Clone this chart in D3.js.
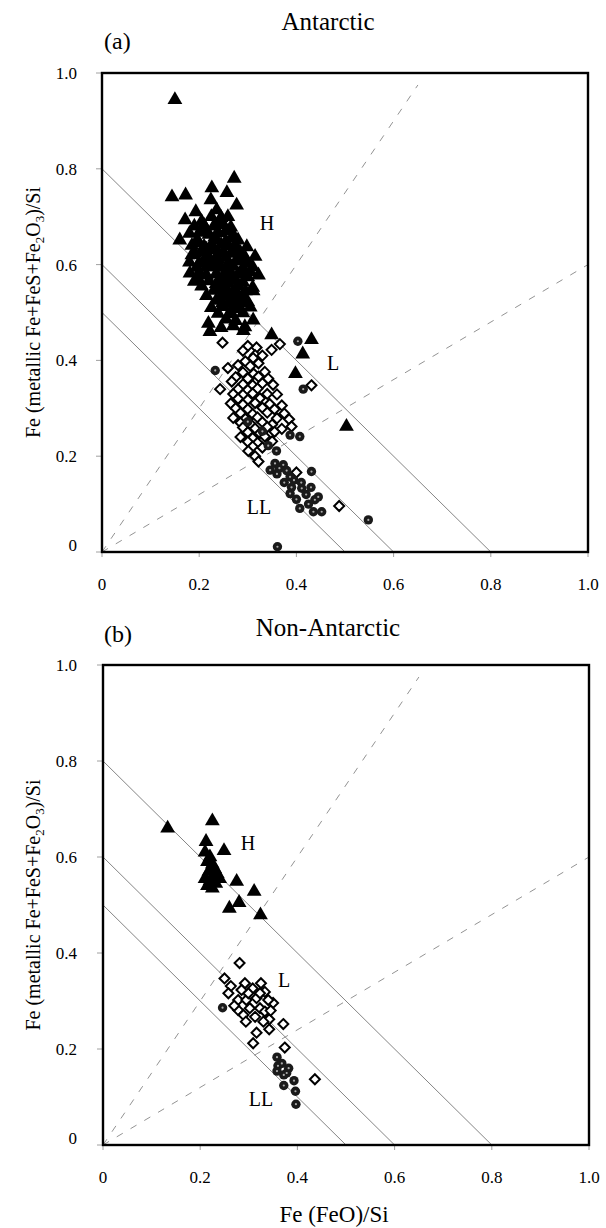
<!DOCTYPE html>
<html><head><meta charset="utf-8">
<script src="https://cdn.jsdelivr.net/npm/d3@7"></script>
<style>html,body{margin:0;padding:0;background:#fff}svg{display:block}</style>
</head><body>
<script>
// ---------- data ----------
const xTickVals = [0, 0.2, 0.4, 0.6, 0.8, 1.0];
const xTickLabels = ["0", "0.2", "0.4", "0.6", "0.8", "1.0"];
const yTickVals = [0, 0.2, 0.4, 0.6, 0.8, 1.0];
const yTickLabels = ["0", "0.2", "0.4", "0.6", "0.8", "1.0"];
const totalFeLines = [0.8, 0.6, 0.5];          // x + y = c
const ratioLines = [[1.5, 0.65], [0.6, 1.0]];   // y = k x, drawn to x end

const antH = [
[0.150,0.944],[0.272,0.780],[0.226,0.760],[0.257,0.750],[0.172,0.745],[0.144,0.741],[0.224,0.735],[0.277,0.724],
[0.236,0.714],[0.193,0.710],[0.259,0.700],[0.171,0.693],[0.225,0.700],[0.245,0.698],
[0.190,0.680],[0.210,0.682],[0.230,0.680],[0.250,0.683],[0.265,0.678],
[0.180,0.665],[0.200,0.667],[0.220,0.663],[0.240,0.666],[0.270,0.662],
[0.160,0.651],[0.195,0.650],[0.235,0.652],[0.255,0.649],[0.280,0.651],
[0.185,0.640],[0.210,0.638],[0.225,0.641],[0.260,0.639],[0.275,0.640],[0.298,0.637],
[0.190,0.625],[0.205,0.627],[0.240,0.624],[0.250,0.626],[0.265,0.623],[0.285,0.625],
[0.315,0.617],[0.220,0.615],[0.295,0.614],
[0.180,0.605],[0.200,0.603],[0.230,0.606],[0.260,0.604],[0.275,0.607],[0.300,0.603],
[0.215,0.595],[0.245,0.594],[0.270,0.596],[0.290,0.593],[0.310,0.595],
[0.181,0.582],[0.200,0.584],[0.235,0.581],[0.255,0.583],[0.280,0.580],
[0.322,0.578],[0.300,0.574],
[0.190,0.565],[0.220,0.566],[0.245,0.564],[0.265,0.567],[0.290,0.563],
[0.205,0.555],[0.255,0.553],[0.280,0.556],[0.310,0.552],
[0.311,0.545],[0.230,0.546],[0.270,0.543],
[0.215,0.535],[0.245,0.534],[0.260,0.536],[0.290,0.533],
[0.235,0.525],[0.275,0.524],[0.300,0.522],
[0.225,0.510],[0.250,0.512],[0.280,0.509],[0.305,0.511],
[0.239,0.498],[0.265,0.497],[0.290,0.499],
[0.311,0.484],[0.255,0.486],[0.275,0.483],
[0.219,0.477],[0.294,0.470],[0.270,0.472],[0.245,0.468],
[0.222,0.460],[0.291,0.462],
[0.349,0.453],[0.431,0.443],[0.413,0.413],[0.398,0.372],[0.503,0.262],
[0.205,0.690],[0.240,0.688],[0.215,0.672],[0.255,0.670],[0.232,0.657],[0.268,0.655],
[0.200,0.645],[0.245,0.642],[0.215,0.632],[0.232,0.630],[0.278,0.630],[0.255,0.615],
[0.238,0.612],[0.285,0.612],[0.210,0.610],[0.228,0.595],[0.258,0.592],[0.195,0.594],
[0.215,0.578],[0.248,0.574],[0.268,0.578],[0.235,0.560],[0.258,0.562],[0.275,0.568],
[0.240,0.548],[0.255,0.540],[0.280,0.538],[0.262,0.522],[0.248,0.520],[0.268,0.508],
[0.285,0.520],[0.295,0.545],[0.288,0.585],[0.305,0.585],[0.197,0.572],[0.185,0.620]
];
const antL = [
[0.248,0.437],[0.318,0.427],[0.349,0.422],[0.366,0.434],[0.300,0.430],
[0.315,0.411],[0.290,0.420],[0.311,0.405],[0.330,0.410],
[0.295,0.398],[0.322,0.394],[0.280,0.390],[0.305,0.388],[0.259,0.384],
[0.290,0.375],[0.312,0.372],[0.335,0.376],
[0.275,0.365],[0.300,0.362],[0.322,0.366],[0.342,0.362],[0.267,0.356],[0.431,0.348],
[0.290,0.350],[0.310,0.348],[0.330,0.352],[0.352,0.349],
[0.243,0.340],[0.280,0.340],[0.300,0.338],[0.320,0.341],
[0.270,0.330],[0.290,0.328],[0.310,0.331],[0.340,0.330],[0.360,0.329],
[0.280,0.320],[0.300,0.318],[0.325,0.321],
[0.265,0.310],[0.290,0.308],[0.315,0.311],[0.345,0.309],[0.370,0.306],
[0.275,0.300],[0.300,0.298],[0.330,0.301],[0.355,0.298],
[0.285,0.290],[0.310,0.288],[0.340,0.291],[0.375,0.289],
[0.270,0.280],[0.295,0.278],[0.320,0.281],[0.360,0.279],[0.385,0.277],
[0.285,0.270],[0.305,0.268],[0.330,0.271],[0.350,0.266],
[0.290,0.260],[0.315,0.258],[0.340,0.261],[0.370,0.257],[0.390,0.262],
[0.300,0.250],[0.325,0.248],[0.355,0.251],
[0.285,0.240],[0.310,0.238],[0.335,0.241],
[0.300,0.230],[0.320,0.228],[0.350,0.231],
[0.310,0.220],[0.330,0.218],[0.301,0.211],[0.315,0.200],[0.322,0.189],
[0.400,0.166],[0.488,0.096]
];
const antLL = [
[0.403,0.440],[0.414,0.340],[0.233,0.379],[0.548,0.067],[0.361,0.011],
[0.407,0.241],[0.387,0.244],[0.359,0.211],[0.300,0.272],[0.330,0.252],[0.342,0.222],
[0.356,0.185],[0.346,0.171],[0.373,0.182],[0.365,0.175],[0.360,0.163],[0.387,0.157],
[0.431,0.168],[0.380,0.170],[0.395,0.150],[0.410,0.145],[0.375,0.145],[0.390,0.135],
[0.411,0.133],[0.387,0.122],[0.420,0.120],[0.438,0.109],[0.400,0.110],[0.425,0.100],
[0.407,0.091],[0.435,0.084],[0.452,0.084],[0.445,0.115],[0.430,0.135]
];
const nonH = [
[0.133,0.660],[0.225,0.675],[0.212,0.632],[0.249,0.613],[0.210,0.610],[0.220,0.600],
[0.215,0.590],[0.225,0.585],[0.230,0.575],[0.218,0.570],[0.228,0.560],[0.235,0.565],
[0.210,0.555],[0.220,0.550],[0.232,0.545],[0.215,0.540],[0.225,0.535],[0.240,0.555],
[0.275,0.549],[0.311,0.528],[0.280,0.505],[0.260,0.493],[0.324,0.479]
];
const nonL = [
[0.281,0.379],[0.250,0.347],[0.263,0.331],[0.258,0.316],[0.292,0.337],[0.325,0.337],
[0.333,0.319],[0.350,0.296],[0.342,0.262],[0.371,0.252],[0.316,0.234],[0.342,0.241],
[0.309,0.212],[0.374,0.203],[0.436,0.137],
[0.308,0.326],[0.278,0.302],[0.295,0.302],[0.316,0.306],[0.340,0.302],[0.278,0.281],
[0.302,0.285],[0.323,0.285],[0.289,0.271],[0.313,0.267],[0.294,0.257],[0.333,0.278],
[0.330,0.257],[0.299,0.316],[0.323,0.316],[0.285,0.323],[0.270,0.290],[0.345,0.280]
];
const nonLL = [
[0.246,0.286],[0.358,0.183],[0.360,0.165],[0.382,0.160],[0.358,0.154],[0.372,0.146],
[0.393,0.134],[0.372,0.124],[0.396,0.112],[0.397,0.085],[0.368,0.170],[0.378,0.150]
];

const panels = [
  {tag:"(a)", title:"Antarctic", H:antH, L:antL, LL:antLL,
   box:[102,588,552,73], tagPos:[104,49], titlePos:[328,30],
   labH:[267,230], labL:[333,370], labLL:[259,514], xTitle:null},
  {tag:"(b)", title:"Non-Antarctic", H:nonH, L:nonL, LL:nonLL,
   box:[103,589,1145,665], tagPos:[104,642], titlePos:[328,636],
   labH:[248,850], labL:[284,987], labLL:[261,1106], xTitle:"Fe (FeO)/Si"}
];

const W = 606, H = 1228;
const svg = d3.select("body").append("svg").attr("width", W).attr("height", H)
  .style("font-family", "'Liberation Serif','Times New Roman',serif");

const diamondPath = "M0,-5L5,0L0,5L-5,0Z";
const tri = d3.symbol().type(d3.symbolTriangle).size(95);

panels.forEach(p => {
  const [x0,x1,y0,y1] = p.box;
  const x = d3.scaleLinear().domain([0,1]).range([x0,x1]);
  const y = d3.scaleLinear().domain([0,1]).range([y0,y1]);
  const g = svg.append("g");

  // total-Fe lines
  g.selectAll("line.tot").data(totalFeLines).join("line")
    .attr("x1", x(0)).attr("y1", c => y(c)).attr("x2", c => x(c)).attr("y2", y(0))
    .attr("stroke", "#666").attr("stroke-width", 0.8);
  // ratio lines from origin
  g.selectAll("line.rat").data(ratioLines).join("line")
    .attr("x1", x(0)).attr("y1", y(0)).attr("x2", d => x(d[1])).attr("y2", d => y(d[0]*d[1]))
    .attr("stroke", "#777").attr("stroke-width", 0.8).attr("stroke-dasharray", "7,9");

  // ticks
  g.selectAll("line.xt").data(xTickVals).join("line")
    .attr("x1", d => x(d)).attr("x2", d => x(d)).attr("y1", y0).attr("y2", y0+5)
    .attr("stroke", "#888").attr("stroke-width", 0.8);
  g.selectAll("line.yt").data(yTickVals).join("line")
    .attr("y1", d => y(d)).attr("y2", d => y(d)).attr("x1", x0).attr("x2", x0-6)
    .attr("stroke", "#888").attr("stroke-width", 0.8);

  // frame
  g.append("rect").attr("x", x0).attr("y", y1).attr("width", x1-x0).attr("height", y0-y1)
    .attr("fill", "none").attr("stroke", "#000").attr("stroke-width", 2.4);

  // markers
  g.selectAll("path.h").data(p.H).join("path")
    .attr("d", tri).attr("transform", d => `translate(${x(d[0])},${y(d[1])})`).attr("fill", "#000");
  g.selectAll("path.l").data(p.L).join("path")
    .attr("d", diamondPath).attr("transform", d => `translate(${x(d[0])},${y(d[1])})`)
    .attr("fill", "#fff").attr("stroke", "#000").attr("stroke-width", 2);
  g.selectAll("circle.ll").data(p.LL).join("circle")
    .attr("cx", d => x(d[0])).attr("cy", d => y(d[1])).attr("r", 4.7).attr("fill", "#1a1a1a");
  g.selectAll("circle.lld").data(p.LL).join("circle")
    .attr("cx", d => x(d[0])).attr("cy", d => y(d[1])).attr("r", 1.1).attr("fill", "#aaa");

  // tick labels
  g.selectAll("text.xl").data(xTickVals).join("text")
    .attr("x", d => x(d)).attr("y", y0+38).attr("text-anchor", "middle")
    .attr("font-size", 17).text((d,i) => xTickLabels[i]);
  g.selectAll("text.yl").data(yTickVals).join("text")
    .attr("x", 77).attr("y", d => d === 0 ? y(d) - 1 : y(d) + 6).attr("text-anchor", "end")
    .attr("font-size", 17).text((d,i) => yTickLabels[i]);

  // group labels
  g.append("text").attr("x", p.labH[0]).attr("y", p.labH[1]).attr("text-anchor","middle").attr("font-size", 20).text("H");
  g.append("text").attr("x", p.labL[0]).attr("y", p.labL[1]).attr("text-anchor","middle").attr("font-size", 20).text("L");
  g.append("text").attr("x", p.labLL[0]).attr("y", p.labLL[1]).attr("text-anchor","middle").attr("font-size", 20).text("LL");

  // titles
  g.append("text").attr("x", p.tagPos[0]).attr("y", p.tagPos[1]).attr("font-size", 24).text(p.tag);
  g.append("text").attr("x", p.titlePos[0]).attr("y", p.titlePos[1]).attr("text-anchor","middle").attr("font-size", 25).text(p.title);

  // y axis title
  const yt = g.append("text").attr("transform", `translate(40,${(y0+y1)/2}) rotate(-90)`)
    .attr("text-anchor", "middle").attr("font-size", 20);
  yt.append("tspan").text("Fe (metallic Fe+FeS+Fe");
  yt.append("tspan").attr("font-size", 13).attr("dy", 4).text("2");
  yt.append("tspan").attr("dy", -4).text("O");
  yt.append("tspan").attr("font-size", 13).attr("dy", 4).text("3");
  yt.append("tspan").attr("dy", -4).text(")/Si");

  if (p.xTitle) {
    g.append("text").attr("x", (x0+x1)/2 - 12).attr("y", y0+77).attr("text-anchor","middle")
      .attr("font-size", 23).text(p.xTitle);
  }
});
</script>
</body></html>
